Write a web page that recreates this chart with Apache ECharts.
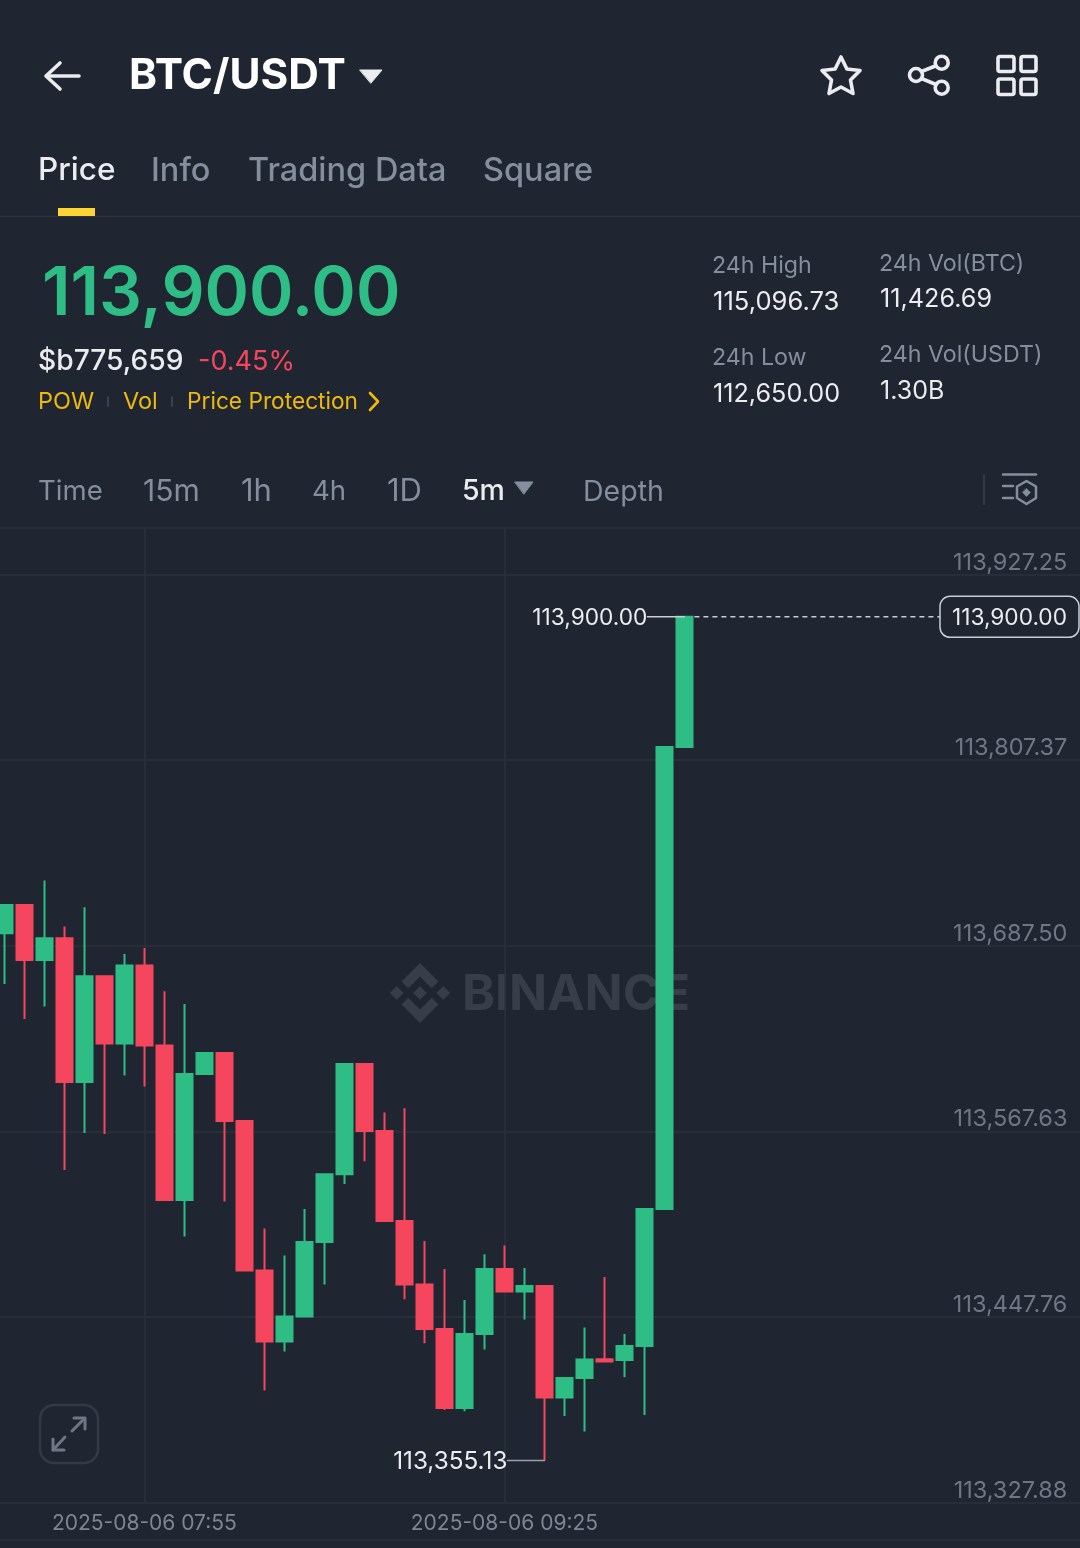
<!DOCTYPE html>
<html><head><meta charset="utf-8"><title>BTC/USDT</title>
<script src="https://cdn.jsdelivr.net/npm/echarts@6/dist/echarts.min.js"></script>
<style>html,body{margin:0;padding:0;background:#1f2631}#c{width:1080px;height:1548px}</style></head>
<body><div id="c"></div>
<script>
const categories = ["07:15","07:20","07:25","07:30","07:35","07:40","07:45","07:50","07:55","08:00","08:05","08:10","08:15","08:20","08:25","08:30","08:35","08:40","08:45","08:50","08:55","09:00","09:05","09:10","09:15","09:20","09:25","09:30","09:35","09:40","09:45","09:50","09:55","10:00","10:05","10:10","10:15","10:20","10:25","10:30","10:35","10:40","10:45","10:50","10:55","11:00","11:05","11:10","11:15","11:20","11:25","11:30","11:35","11:40","11:45","11:50"];
const dateLabels = ["07:55","09:25"];
const opens  = ['-',113695.57,113713.92,113678.39,113692.34,113599.60,113667.80,113624.33,113674.71,113623.04,113523.38,113604.76,113618.33,113574.41,113477.72,113431.87,113448.01,113496.26,113539.92,113611.22,113567.95,113509.82,113468.68,113439.94,113389.04,113436.71,113478.82,113464.16,113467.84,113395.70,113408.42,113420.43,113419.90,113429.09,113517.44,113815.83];
const closes = ['-',113713.92,113678.39,113692.34,113599.60,113667.80,113624.33,113674.71,113623.04,113523.38,113604.76,113618.33,113574.41,113477.72,113431.87,113448.01,113496.26,113539.92,113611.22,113567.95,113509.82,113468.68,113439.94,113389.04,113436.71,113478.82,113464.16,113467.84,113395.70,113408.42,113420.24,113418.95,113429.09,113517.44,113815.83,113900.00];
const lows   = ['-',113662.89,113640.29,113648.23,113542.76,113566.66,113566.01,113603.67,113596.56,113523.38,113499.68,113604.76,113522.29,113477.72,113400.22,113425.41,113448.01,113468.68,113533.72,113548.32,113509.82,113459.19,113430.77,113387.75,113386.85,113426.70,113464.16,113446.07,113355.13,113383.88,113373.74,113418.95,113408.81,113384.52,113517.44,113815.83];
const highs  = ['-',113713.92,113713.92,113729.61,113699.90,113712.37,113667.80,113682.27,113686.14,113658.11,113649.98,113618.33,113618.33,113574.41,113504.85,113487.41,113517.44,113539.92,113611.22,113611.22,113579.77,113582.55,113496.90,113478.82,113458.80,113488.25,113493.87,113479.47,113467.84,113408.42,113440.91,113473.65,113436.84,113517.44,113815.83,113900.00];
const priceTicks = [113927.25,113807.37,113687.50,113567.63,113447.76,113327.88];
const lastPrice = 113900.00, lowPrice = 113355.13;

const BG='#1f2631', LINE='#2b323e', GREEN='#2ebd85', RED='#f6465d', GRAY='#848e9c', WHITE='#eaecef', YEL='#f0b90b';
const FONT='Inter, "Open Sans", sans-serif';
const chart = echarts.init(document.getElementById('c'), null, {renderer:'canvas'});
const fmt = v => v.toLocaleString('en-US',{minimumFractionDigits:2,maximumFractionDigits:2});

chart.setOption({
  animation:false, backgroundColor:BG,
  grid:{left:-15.6,width:1100,top:528.6,height:974,containLabel:false,outerBoundsMode:'none'},
  xAxis:{type:'category',data:categories,boundaryGap:false,
    axisLine:{show:false},axisTick:{show:false},
    splitLine:{show:true,interval:(i,v)=>dateLabels.includes(v),lineStyle:{color:LINE,width:1.5}},
    axisLabel:{interval:(i,v)=>dateLabels.includes(v),formatter:v=>'2025-08-06 '+v,color:'#7e8694',fontSize:21,fontFamily:FONT,margin:11,hideOverlap:false}},
  yAxis:{type:'value',position:'right',min:113327.88,max:113956.95,
    axisLine:{show:false},axisTick:{show:false},splitLine:{show:false},
    axisLabel:{inside:true,customValues:priceTicks,formatter:fmt,color:'#6f7785',fontSize:23.5,fontFamily:FONT,margin:17,verticalAlign:'bottom',align:'right',showMinLabel:true,showMaxLabel:true}},
  series:[{type:'candlestick',clip:false,z:3,barWidth:16,
    data:opens.map((o,i)=>[o,closes[i],lows[i],highs[i]]),
    itemStyle:{color:GREEN,color0:RED,borderColor:GREEN,borderColor0:RED,borderWidth:2},
    markLine:{silent:true,symbol:'none',z:1,animation:false,label:{show:false},lineStyle:{color:LINE,width:1.5,type:'solid'},
      data:priceTicks.map(v=>({yAxis:v}))}
  }]
});

const T=(text,x,y,size,fill,weight,extra)=>{const e=extra||{};return {type:'text',silent:true,z:e.z==null?10:e.z,style:{text,x,y,fill,fontSize:size,fontWeight:weight||400,fontFamily:FONT,textVerticalAlign:'middle',textAlign:e.align||'left'}};};
const L=(x1,y1,x2,y2,stroke,w)=>({type:'line',silent:true,z:10,shape:{x1,y1,x2,y2},style:{stroke,lineWidth:w,lineCap:'round'}});
const H=(y)=>({type:'line',silent:true,z:1,shape:{x1:0,y1:y,x2:1080,y2:y},style:{stroke:LINE,lineWidth:1.5}});
const P=(pts,style,closed)=>({type:closed?'polygon':'polyline',silent:true,z:10,shape:{points:pts},style:Object.assign({lineJoin:'round',lineCap:'round'},style)});
const R=(x,y,w,h,r,style)=>({type:'rect',silent:true,z:10,shape:{x,y,width:w,height:h,r},style});
const C=(cx,cy,r,style)=>({type:'circle',silent:true,z:10,shape:{cx,cy,r},style});
const S=(c,w)=>({stroke:c,lineWidth:w,fill:'none'});

const pLast = chart.convertToPixel({seriesIndex:0},[35,lastPrice]);
const pLow  = chart.convertToPixel({seriesIndex:0},[28,lowPrice]);
const logoShapes=[
 [[38.73,53.2],[63.3,28.63],[87.88,53.21],[102.18,38.91],[63.3,0],[24.43,38.88]],
 [[0,63.31],[14.3,49.01],[28.6,63.31],[14.3,77.61]],
 [[38.73,73.41],[63.3,97.99],[87.88,73.41],[102.19,87.7],[63.3,126.61],[24.43,87.73]],
 [[98.01,63.31],[112.31,49.01],[126.61,63.31],[112.31,77.61]],
 [[77.81,63.31],[63.3,48.8],[48.8,63.3],[63.3,77.81]]];

const g=[];
// header
g.push(P([[60,63],[46,76],[60,89]],S(WHITE,3.6)), L(47,76,79,76,WHITE,3.6));
g.push(T('BTC/USDT',129,76,42.4,'#ffffff',700));
g.push(P([[360,70],[382,70],[371,83]],{fill:WHITE,stroke:WHITE,lineWidth:1},true));
g.push(P([[841,57],[846.9,69],[860,70.5],[850.5,80],[853,93.5],[841,87],[829,93.5],[831.5,80],[822,70.5],[835.1,69]],S(WHITE,3.6),true));
g.push(C(941.7,62.7,6.5,S(WHITE,3.6)),C(916,75,6.5,S(WHITE,3.6)),C(941.7,87.7,6.5,S(WHITE,3.6)),L(921.5,71.5,936,65.8,WHITE,3.6),L(921.5,78.5,936,84.5,WHITE,3.6));
g.push(R(998,56.5,16,15,2,S(WHITE,3.6)),R(1021,56.5,15,15,2,S(WHITE,3.6)),R(998,79,16,15.5,2,S(WHITE,3.6)),R(1021,79,15,15.5,2,S(WHITE,3.6)));
// tabs
g.push(T('Price',38,171,31.5,WHITE,500),T('Info',151,171,32.5,GRAY,500),T('Trading Data',248,171,32.5,GRAY,500),T('Square',483,171,32.5,GRAY,500));
g.push(H(216.5),R(58,208,37,8,0,{fill:'#fcd535'}));
// price block
g.push(T('113,900.00',42,295,67.5,GREEN,600));
g.push(T('$b775,659',38,362,28.2,WHITE,500),T('-0.45%',198,362,27,RED,400));
g.push(T('POW',38,402,23.5,YEL),T('Vol',123,402,23.5,YEL),T('Price Protection',187,402,22.7,YEL));
g.push(L(108,397,108,406,'#3a424f',2),L(172,397,172,406,'#3a424f',2));
g.push(P([[370,393],[378,401.5],[370,410]],S(YEL,2.6)));
// stats
g.push(T('24h High',712,266,23.2,GRAY),T('115,096.73',713,302,25.6,WHITE),T('24h Low',712,358,23.2,GRAY),T('112,650.00',713,394,25.2,WHITE));
g.push(T('24h Vol(BTC)',879,264,23.2,GRAY),T('11,426.69',880,299,25.2,WHITE),T('24h Vol(USDT)',879,355,23.2,GRAY),T('1.30B',880,391,25,WHITE));
// intervals
g.push(T('Time',38,492,27.6,GRAY),T('15m',143,492,30,GRAY),T('1h',241,492,31,GRAY),T('4h',312,492,27.6,GRAY),T('1D',387,492,31,GRAY),T('5m',462,491,28.5,WHITE,500),T('Depth',583,492,28.5,GRAY));
g.push(P([[515,482],[533,482],[524,494]],{fill:GRAY,stroke:GRAY,lineWidth:1},true));
g.push(L(984,475,984,504,'#343b47',2));
g.push(L(1003,474.5,1036,474.5,GRAY,2.5),L(1003,486,1013,486,GRAY,2.5),L(1003,498,1013,498,GRAY,2.5));
g.push(P([[1026.5,481],[1036,486.5],[1036,498],[1026.5,504],[1017,498],[1017,486.5]],S(GRAY,2.5),true));
g.push(P([[1026.5,488.5],[1030.5,492.5],[1026.5,496.5],[1022.5,492.5]],{fill:GRAY,stroke:GRAY,lineWidth:0.5},true));
// chart frame
g.push(H(528),H(1540));
// watermark
logoShapes.forEach(s=>g.push({type:'polygon',silent:true,z:-1,shape:{points:s.map(p=>[390+p[0]*60/126.61,963+p[1]*60/126.61])},style:{fill:'#373e4a'}}));
g.push(T('BINANCE',462,995,50,'#373e4a',700,{z:-1}));
// annotations from data
g.push(L(pLast[0],pLast[1],pLast[0]-37,pLast[1],'#c9ced6',1.5));
g.push(T(fmt(lastPrice),pLast[0]-37,pLast[1]+1.5,22.7,WHITE,400,{align:'right'}));
g.push({type:'line',silent:true,z:10,shape:{x1:pLast[0]+10,y1:pLast[1],x2:940,y2:pLast[1]},style:{stroke:'#c9ced6',lineWidth:1.5,lineDash:[5,4]}});
g.push(R(940,pLast[1]-20.5,139,41,10,{stroke:'#c9ced6',lineWidth:1.5,fill:BG}));
g.push(T(fmt(lastPrice),1067,pLast[1]+1.5,22.7,WHITE,400,{align:'right'}));
g.push(L(pLow[0],pLow[1],pLow[0]-37,pLow[1],'#9aa1ad',1.5));
g.push(T(fmt(lowPrice),pLow[0]-37,pLow[1]+1.5,24.3,WHITE,400,{align:'right'}));
// expand button
g.push(R(40,1405,58,58,14,S('#333a46',2.5)));
g.push(L(72,1431,84,1419,'#6f7785',3),P([[74,1418],[85,1418],[85,1429]],S('#6f7785',3)));
g.push(L(65,1437,53,1450,'#6f7785',3),P([[53,1439],[53,1450],[64,1450]],S('#6f7785',3)));
chart.setOption({graphic:{elements:g}});
</script></body></html>
